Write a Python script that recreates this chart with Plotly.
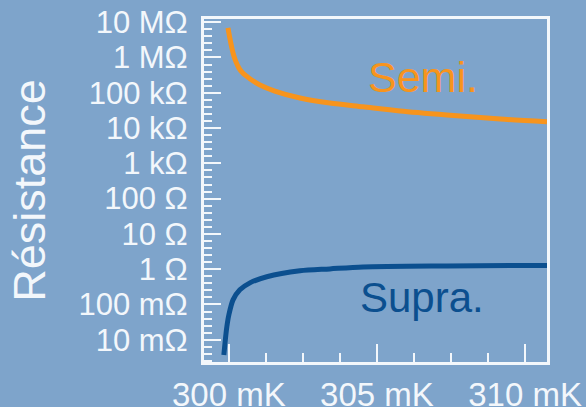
import plotly.graph_objects as go

# Temperature (mK) and resistance (ohm) of the two samples
semi_T = [299.97, 300.03, 300.10, 300.17, 300.24, 300.34, 300.47, 300.71,
          301.05, 301.55, 302.40, 303.41, 304.53, 305.78, 307.36, 309.16, 310.74]
semi_R = [6.9e6, 3.6e6, 1.86e6, 1.1e6, 7.5e5, 5.0e5, 3.6e5, 2.5e5,
          1.66e5, 1.12e5, 7.1e4, 5.1e4, 4.0e4, 3.05e4, 2.35e4, 1.8e4, 1.5e4]

supra_T = [299.83, 299.88, 299.93, 300.00, 300.14, 300.37, 300.71, 301.28,
           302.40, 303.41, 304.53, 307.36, 310.74]
supra_R = [3.7e-3, 1.0e-2, 2.3e-2, 5.1e-2, 0.135, 0.26, 0.41, 0.61,
           0.90, 1.02, 1.16, 1.24, 1.28]

# Axis ticks
y_tickvals = [1e-2, 1e-1, 1e0, 1e1, 1e2, 1e3, 1e4, 1e5, 1e6, 1e7]
y_ticktext = ["10 mΩ", "100 mΩ", "1 Ω", "10 Ω", "100 Ω",
              "1 kΩ", "10 kΩ", "100 kΩ", "1 MΩ", "10 MΩ"]
x_tickvals = [300, 305, 310]
x_ticktext = ["300 mK", "305 mK", "310 mK"]

BG = "#7ea4cb"
FG = "#f3f7fb"
ORANGE = "#f7941d"
BLUE = "#0b4f8f"
FONT = "Liberation Sans, Arial, Helvetica, sans-serif"

fig = go.Figure()
fig.add_trace(go.Scatter(x=semi_T, y=semi_R, mode="lines",
                         line=dict(color=ORANGE, width=5, shape="spline",
                                   smoothing=0.8),
                         showlegend=False))
fig.add_trace(go.Scatter(x=supra_T, y=supra_R, mode="lines",
                         line=dict(color=BLUE, width=5, shape="spline",
                                   smoothing=0.8),
                         showlegend=False))

fig.add_annotation(x=306.55, y=5.45, text="Semi.", showarrow=False,
                   font=dict(family=FONT, size=43, color=ORANGE))
fig.add_annotation(x=306.52, y=-0.81, text="Supra.", showarrow=False,
                   font=dict(family=FONT, size=42, color=BLUE))

fig.update_xaxes(
    range=[299.16, 310.74],
    tickvals=x_tickvals, ticktext=x_ticktext,
    ticks="inside", ticklen=18, tickwidth=2, tickcolor=FG,
    minor=dict(ticks="inside", dtick=1.25, tick0=300, ticklen=9,
               tickwidth=2, tickcolor=FG, showgrid=False),
    showline=True, linecolor=FG, linewidth=3, mirror=True,
    showgrid=False, zeroline=False, automargin=False,
    tickfont=dict(family=FONT, size=33, color=FG),
    ticklabelstandoff=1,
)
fig.update_yaxes(
    type="log", range=[-2.63, 7.09],
    tickvals=y_tickvals, ticktext=y_ticktext,
    ticks="inside", ticklen=17, tickwidth=2, tickcolor=FG,
    minor=dict(ticks="inside", dtick=0.2, tick0=0, ticklen=8,
               tickwidth=2, tickcolor=FG, showgrid=False),
    showline=True, linecolor=FG, linewidth=3, mirror=True,
    showgrid=False, zeroline=False, automargin=False,
    tickfont=dict(family=FONT, size=31, color=FG),
    ticklabelstandoff=7,
    title=dict(text="Résistance", font=dict(family=FONT, size=45, color=FG),
               standoff=19),
)
fig.update_layout(
    width=586, height=407,
    margin=dict(l=204, r=39, t=19, b=45),
    paper_bgcolor=BG, plot_bgcolor=BG,
    showlegend=False,
)

fig.write_html("out.html")
